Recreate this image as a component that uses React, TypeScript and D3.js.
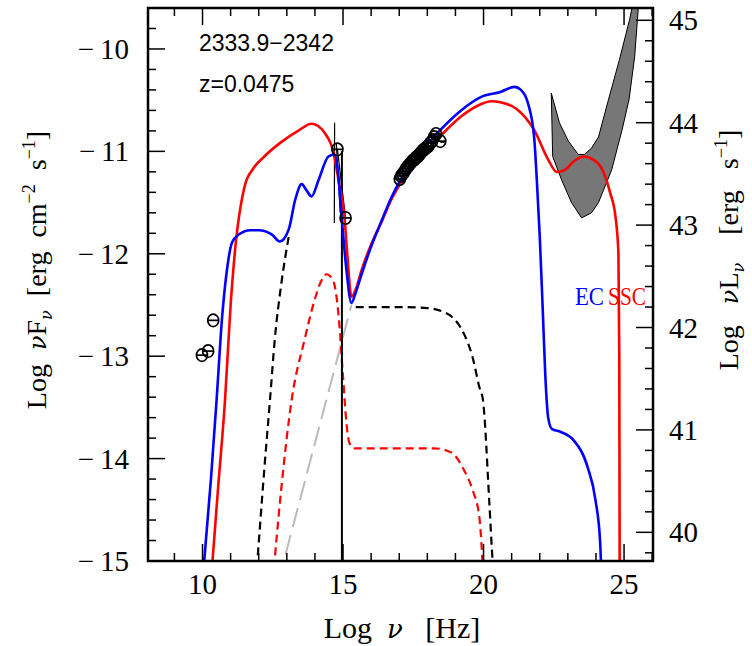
import React from 'react';
import * as d3 from 'd3';

type P = [number, number];

// ---------- data (log nu [Hz], log nuFnu) ----------
const ecCurve: P[] = [
  [10.0, -15.2], [10.3, -14.2], [10.5, -13.43], [10.7, -12.61], [10.85, -12.2], [11.05, -11.89], [11.3, -11.81],
  [11.7, -11.77], [12.0, -11.77], [12.46, -11.81], [12.75, -11.88], [13.07, -11.76], [13.3, -11.47],
  [13.53, -11.32], [13.7, -11.38], [13.88, -11.44], [14.13, -11.28], [14.48, -11.05], [14.7, -11.03],
  [14.82, -11.2], [14.95, -11.64], [15.1, -12.1], [15.3, -12.48], [15.45, -12.38], [15.66, -12.2],
  [16.0, -11.93], [16.37, -11.68], [16.72, -11.45], [17.07, -11.27], [17.78, -11.0], [18.5, -10.78],
  [19.2, -10.6], [19.9, -10.47], [20.6, -10.42], [21.1, -10.37], [21.33, -10.4], [21.57, -10.52],
  [21.8, -10.86], [21.9, -11.3], [22.0, -11.83], [22.1, -12.5], [22.2, -13.2], [22.3, -13.6],
  [22.43, -13.71], [22.75, -13.74], [23.2, -13.82], [23.7, -14.08], [23.98, -14.4], [24.15, -14.82],
  [24.2, -15.2],
];

const sscCurve: P[] = [
  [10.3, -15.2], [10.55, -14.3], [10.8, -13.43], [11.0, -12.5], [11.16, -11.96], [11.5, -11.34],
  [11.8, -11.17], [12.2, -11.05], [12.8, -10.91], [13.4, -10.8], [13.88, -10.73], [14.1, -10.75],
  [14.35, -10.82], [14.66, -11.01], [14.85, -11.3], [15.05, -11.64], [15.15, -12.0], [15.3, -12.42],
  [15.45, -12.35], [15.66, -12.16], [16.0, -11.91], [16.37, -11.69], [16.72, -11.47], [17.07, -11.3],
  [17.78, -11.05], [18.5, -10.84], [19.2, -10.66], [19.9, -10.54], [20.27, -10.51], [20.6, -10.52],
  [21.2, -10.59], [21.8, -10.79], [22.3, -11.08], [22.6, -11.2], [22.9, -11.18], [23.2, -11.1],
  [23.57, -11.05], [23.9, -11.08], [24.17, -11.15], [24.5, -11.4], [24.7, -11.65], [24.8, -12.0],
  [24.83, -13.0], [24.845, -15.2],
];

const diskCurve: P[] = [
  [11.9, -15.2], [12.2, -14.1], [12.4, -13.43], [12.57, -12.84], [12.8, -12.3], [13.07, -11.83],
];

const coronaCurve: P[] = [
  [15.45, -12.52], [16.0, -12.52], [17.0, -12.52], [18.0, -12.53], [18.5, -12.56], [18.8, -12.6],
  [19.3, -12.78], [19.6, -13.0], [19.85, -13.3], [19.98, -13.43], [20.2, -14.4], [20.3, -14.9], [20.37, -15.2],
];

const synchroCurve: P[] = [
  [12.5, -15.2], [12.8, -14.3], [13.17, -13.43], [13.63, -12.84], [13.99, -12.45], [14.2, -12.28],
  [14.42, -12.2], [14.66, -12.27], [14.84, -12.6], [15.0, -13.2], [15.12, -13.65], [15.23, -13.85],
  [15.4, -13.9], [16.0, -13.9], [17.0, -13.9], [18.25, -13.9], [18.85, -13.94], [19.3, -14.11],
  [19.6, -14.3], [19.85, -14.57], [20.0, -15.2],
];

const hostCurve: P[] = [[12.7, -15.2], [15.3, -12.5]];

const bowtieUpper: P[] = [
  [22.41, -10.43], [22.7, -10.72], [23.02, -10.9], [23.37, -11.03], [23.59, -11.03], [23.84, -10.97],
  [24.09, -10.86], [24.45, -10.49], [24.84, -10.1], [25.2, -9.71], [25.32, -9.55],
];
const bowtieLower: P[] = [
  [25.52, -9.55], [25.38, -10.07], [25.18, -10.49], [24.93, -10.79], [24.56, -11.18], [24.09, -11.5],
  [23.84, -11.6], [23.49, -11.65], [23.13, -11.5], [22.78, -11.28], [22.46, -11.05],
];

const radioPoints: P[] = [[9.98, -12.99], [10.2, -12.95], [10.38, -12.65]];
const opticalPoints: P[] = [[14.8, -10.98], [15.09, -11.65]];
const xrayPoints: P[] = [
  [17.02, -11.27], [17.07, -11.24], [17.12, -11.22], [17.18, -11.2], [17.24, -11.17], [17.3, -11.15],
  [17.36, -11.13], [17.42, -11.11], [17.48, -11.09], [17.54, -11.08], [17.6, -11.06], [17.66, -11.05],
  [17.72, -11.03], [17.78, -11.01], [17.84, -10.99], [17.9, -10.98], [17.97, -10.96], [18.03, -10.95],
  [18.1, -10.92], [18.17, -10.9], [18.24, -10.86], [18.31, -10.83], [18.46, -10.9],
];

const xMajor = [10, 15, 20, 25];
const xMinor = [9, 11, 12, 13, 14, 16, 17, 18, 19, 21, 22, 23, 24, 26];
const yMajor = [-15, -14, -13, -12, -11, -10];
const rMajor = [40, 41, 42, 43, 44, 45];
const LUM_OFFSET = 54.72;

const W = 752, H = 646;
const L = 148, R = 653, T = 8, B = 561;

const x = d3.scaleLinear().domain([8.06, 26.03]).range([L, R]);
const y = d3.scaleLinear().domain([-15, -9.6]).range([B, T]);
const yr = d3.scaleLinear().domain([-15 + LUM_OFFSET, -9.6 + LUM_OFFSET]).range([B, T]);

const lineM = d3.line<P>().x(d => x(d[0])).y(d => y(d[1])).curve(d3.curveMonotoneX);
const lineL = d3.line<P>().x(d => x(d[0])).y(d => y(d[1]));

const serif = '"Liberation Serif", "Times New Roman", serif';
const sans = '"Liberation Sans", Arial, sans-serif';
const nuFont = '"DejaVu Serif", serif';

function Sym({ p }: { p: P }) {
  const cx = x(p[0]), cy = y(p[1]);
  return (
    <g stroke="#000" strokeWidth={1.7} fill="none">
      <ellipse cx={cx} cy={cy} rx={5.5} ry={6.2} />
      <line x1={cx - 5.5} x2={cx + 5.5} y1={cy} y2={cy} />
    </g>
  );
}

export default function App() {
  const yMinor: number[] = [];
  for (let i = 0; i <= 27; i++) {
    const v = -15 + i * 0.2;
    if (Math.abs(v - Math.round(v)) > 1e-6) yMinor.push(v);
  }
  const rMinor: number[] = [];
  for (let i = 0; i <= 30; i++) {
    const v = 39.6 + i * 0.2;
    if (Math.abs(v - Math.round(v)) > 1e-6 && v > 39.72 && v < 45.12) rMinor.push(v);
  }
  const bowtie = [...bowtieUpper, ...bowtieLower];
  const MJ = 17, MN = 8;
  return (
    <svg width={W} height={H} style={{ position: 'absolute', left: 0, top: 0, background: '#fff' }}>
      <defs>
        <clipPath id="plot">
          <rect x={L} y={T} width={R - L} height={B - T} />
        </clipPath>
      </defs>
      <g clipPath="url(#plot)">
        <path d={lineL(bowtie) + 'Z'} fill="#777" stroke="#000" strokeWidth={1} />
        <path d={lineL(hostCurve)!} fill="none" stroke="#bbb" strokeWidth={2} strokeDasharray="20 8" />
        <path d={lineM(diskCurve)!} fill="none" stroke="#000" strokeWidth={2.2} strokeDasharray="8 5" />
        <path d={lineM(coronaCurve)!} fill="none" stroke="#000" strokeWidth={2.2} strokeDasharray="8 5" />
        <path d={lineM(synchroCurve)!} fill="none" stroke="#f00" strokeWidth={2.2} strokeDasharray="8 5" />
        {/* optical / UV data lines */}
        <line x1={x(14.7)} x2={x(14.69)} y1={y(-10.72)} y2={y(-11.7)} stroke="#000" strokeWidth={1.2} />
        <line x1={x(14.76)} x2={x(14.9)} y1={y(-10.92)} y2={y(-11.6)} stroke="#000" strokeWidth={1.2} />
        <line x1={x(14.8)} x2={x(15.09)} y1={y(-10.98)} y2={y(-11.65)} stroke="#000" strokeWidth={1.2} />
        <line x1={x(14.96)} x2={x(14.96)} y1={y(-11.0)} y2={y(-15.1)} stroke="#000" strokeWidth={2} />
        <path d={lineM(sscCurve)!} fill="none" stroke="#f00" strokeWidth={2.6} />
        <path d={lineM(ecCurve)!} fill="none" stroke="#00f" strokeWidth={2.6} />
        {radioPoints.map((p, i) => <Sym key={'r' + i} p={p} />)}
        {opticalPoints.map((p, i) => <Sym key={'o' + i} p={p} />)}
        {xrayPoints.map((p, i) => <Sym key={'x' + i} p={p} />)}
        <line x1={x(18.46)} x2={x(18.62)} y1={y(-10.91)} y2={y(-10.91)} stroke="#000" strokeWidth={1.5} />
      </g>

      {/* frame */}
      <rect x={L} y={T} width={R - L} height={B - T} fill="none" stroke="#000" strokeWidth={2.5} />

      {/* ticks */}
      <g stroke="#000" strokeWidth={1.5}>
        {xMajor.map(v => (
          <g key={'xm' + v}>
            <line x1={x(v)} x2={x(v)} y1={B} y2={B - MJ} />
            <line x1={x(v)} x2={x(v)} y1={T} y2={T + MJ} />
          </g>
        ))}
        {xMinor.map(v => (
          <g key={'xn' + v}>
            <line x1={x(v)} x2={x(v)} y1={B} y2={B - MN} />
            <line x1={x(v)} x2={x(v)} y1={T} y2={T + MN} />
          </g>
        ))}
        {yMajor.map(v => <line key={'ym' + v} x1={L} x2={L + MJ} y1={y(v)} y2={y(v)} />)}
        {yMinor.map(v => <line key={'yn' + v.toFixed(1)} x1={L} x2={L + MN} y1={y(v)} y2={y(v)} />)}
        {rMajor.map(v => <line key={'rm' + v} x1={R} x2={R - MJ} y1={yr(v)} y2={yr(v)} />)}
        {rMinor.map(v => <line key={'rn' + v.toFixed(1)} x1={R} x2={R - MN} y1={yr(v)} y2={yr(v)} />)}
      </g>

      {/* tick labels */}
      <g fontFamily={serif} fontSize={29} fill="#000">
        {xMajor.map(v => (
          <text key={'xl' + v} x={x(v)} y={594} textAnchor="middle">{v}</text>
        ))}
        {yMajor.map(v => (
          <text key={'yl' + v} x={129} y={y(v) + 10} textAnchor="end">{'\u2212\u2009' + Math.abs(v)}</text>
        ))}
        {rMajor.map(v => (
          <text key={'rl' + v} x={669} y={yr(v) + 10} textAnchor="start">{v}</text>
        ))}
      </g>

      {/* axis titles */}
      <text x={402} y={638} textAnchor="middle" fontFamily={serif} fontSize={30} style={{ whiteSpace: 'pre' }}>
        <tspan>{'Log  '}</tspan>
        <tspan fontFamily={nuFont} fontStyle="italic" fontSize={26}>{'\u03bd'}</tspan>
        <tspan>{'   [Hz]'}</tspan>
      </text>
      <text transform="translate(46,270) rotate(-90)" textAnchor="middle" fontFamily={serif} fontSize={28} style={{ whiteSpace: 'pre' }}>
        <tspan>{'Log  '}</tspan>
        <tspan fontFamily={nuFont} fontStyle="italic" fontSize={24}>{'\u03bd'}</tspan>
        <tspan>{'F'}</tspan>
        <tspan fontFamily={nuFont} fontStyle="italic" fontSize={16} dy={6}>{'\u03bd'}</tspan>
        <tspan dy={-6}>{'  [erg  cm'}</tspan>
        <tspan fontSize={18} dy={-11}>{'\u22122'}</tspan>
        <tspan dy={11}>{'  s'}</tspan>
        <tspan fontSize={18} dy={-11}>{'\u22121'}</tspan>
        <tspan dy={11}>{']'}</tspan>
      </text>
      <text transform="translate(738,250) rotate(-90)" textAnchor="middle" fontFamily={serif} fontSize={28} style={{ whiteSpace: 'pre' }}>
        <tspan>{'Log   '}</tspan>
        <tspan fontFamily={nuFont} fontStyle="italic" fontSize={24}>{'\u03bd'}</tspan>
        <tspan>{'L'}</tspan>
        <tspan fontFamily={nuFont} fontStyle="italic" fontSize={16} dy={6}>{'\u03bd'}</tspan>
        <tspan dy={-6}>{'    [erg   s'}</tspan>
        <tspan fontSize={18} dy={-11}>{'\u22121'}</tspan>
        <tspan dy={11}>{']'}</tspan>
      </text>

      {/* annotations */}
      <text x={199} y={51} fontFamily={sans} fontSize={23}>{'2333.9\u22122342'}</text>
      <text x={199} y={92} fontFamily={sans} fontSize={23}>z=0.0475</text>
      <text x={575} y={305} fontFamily={serif} fontSize={26} fill="#00f" textLength={29} lengthAdjust="spacingAndGlyphs">EC</text>
      <text x={608} y={305} fontFamily={serif} fontSize={26} fill="#f00" textLength={38} lengthAdjust="spacingAndGlyphs">SSC</text>
    </svg>
  );
}
